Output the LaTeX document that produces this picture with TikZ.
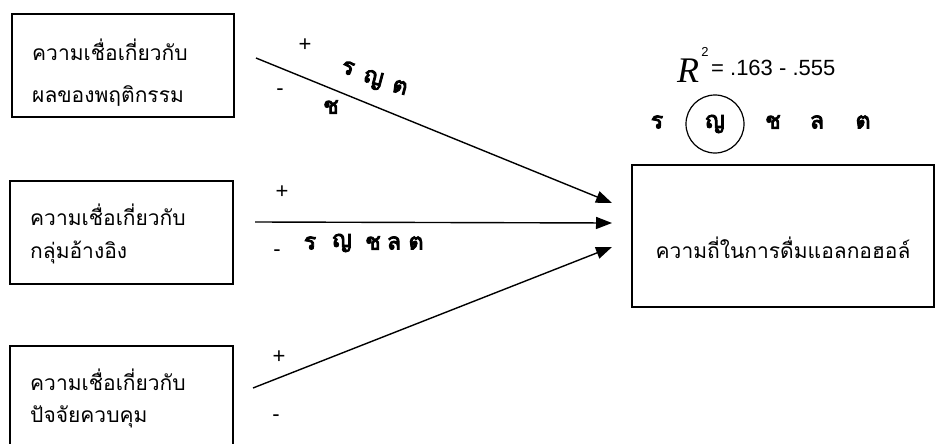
\documentclass[tikz,border=0pt]{standalone}
\usepackage{fontspec}
\setmainfont{Liberation Sans}
\newfontfamily\thaifont[Script=Thai]{Loma}
\newfontfamily\thaibold[Script=Thai, FakeBold=4]{Loma}
\newfontfamily\tnrfont{Liberation Serif}
\usetikzlibrary{arrows.meta}
\begin{document}
\begin{tikzpicture}[x=1pt,y=-1pt,
  box/.style={draw, line width=1.5pt, inner sep=0pt},
  thtxt/.style={font=\thaifont\fontsize{21}{24}\selectfont, anchor=west, inner sep=0pt},
  arr/.style={line width=1.4pt, -{Triangle[length=16pt,width=12pt]}},
  sign/.style={font=\fontsize{22}{24}\selectfont, inner sep=0pt},
  garb/.style={font=\thaibold\fontsize{23}{25}\selectfont, inner sep=0pt}]
\useasboundingbox (0,0) rectangle (937,444);
\clip (0,0) rectangle (937,444);
% boxes
\node[box, minimum width=222pt, minimum height=103pt] (b1) at (123,65.5) {};
\node[box, minimum width=223pt, minimum height=103pt] (b2) at (121.5,232.5) {};
\node[box, minimum width=223pt, minimum height=110pt] (b3) at (121.5,401) {};
\node[box, minimum width=302pt, minimum height=142pt] (tgt) at (783,236) {};
% box texts
\node[thtxt] (b1a) at (32,50) {ความเชื่อเกี่ยวกับ};
\node[thtxt] (b1b) at (32,96) {ผลของพฤติกรรม};
\node[thtxt] (b2a) at (30,215) {ความเชื่อเกี่ยวกับ};
\node[thtxt] (b2b) at (30,252) {กลุ่มอ้างอิง};
\node[thtxt] (b3a) at (30,380) {ความเชื่อเกี่ยวกับ};
\node[thtxt] (b3b) at (30,417) {ปัจจัยควบคุม};
\node[thtxt, anchor=center] (tgtx) at (783,248) {ความถี่ในการดื่มแอลกอฮอล์};
% arrows
\coordinate (s1) at (256,58);
\coordinate (s2) at (255,222);
\coordinate (s3) at (253,388);
\coordinate (e1) at (612,203);
\coordinate (e2) at (612,223);
\coordinate (e3) at (612,247);
\draw[arr] (s1) -- (e1);
\draw[arr] (s2) -- (e2);
\draw[arr] (s3) -- (e3);
% signs
\node[sign] (p1) at (305,45) {+};
\node[sign] (m1) at (280,92) {-};
\node[sign] (p2) at (282,192) {+};
\node[sign] (m2) at (277,253) {-};
\node[sign] (p3) at (279,357) {+};
\node[sign] (m3) at (276,418) {-};
% garbled marks on arrow 1
\node[garb, rotate=-15] (g1a) at (348,68) {ร};
\node[garb, rotate=-15] (g1b) at (373,80) {ญ};
\node[garb, rotate=-15] (g1c) at (400,87) {ต};
\node[garb] (g1d) at (331,107) {ช};
% garbled marks on arrow 2
\node[garb] (g2a) at (310,243) {ร};
\node[garb] (g2b) at (342,243) {ญ};
\node[garb] (g2c) at (373,243) {ช};
\node[garb] (g2d) at (394,243) {ล};
\node[garb] (g2e) at (416,243) {ต};
% R^2
\node[font=\tnrfont\itshape\fontsize{36}{38}\selectfont, inner sep=0pt] (R) at (688,71) {R};
\node[font=\fontsize{13}{15}\selectfont, inner sep=0pt] (R2) at (705,52) {2};
\node[font=\fontsize{22}{24}\selectfont, inner sep=0pt, anchor=west] (Rv) at (711,68) {= .163 - .555};
% row under R^2
\node[garb] (r1) at (657,122) {ร};
\node[garb, draw, circle, line width=1.2pt, minimum size=58pt, inner sep=0pt] (r2) at (715,124) {ญ};
\node[garb] (r3) at (773,122) {ช};
\node[garb] (r4) at (817,122) {ล};
\node[garb] (r5) at (863,122) {ต};
\end{tikzpicture}
\end{document}
